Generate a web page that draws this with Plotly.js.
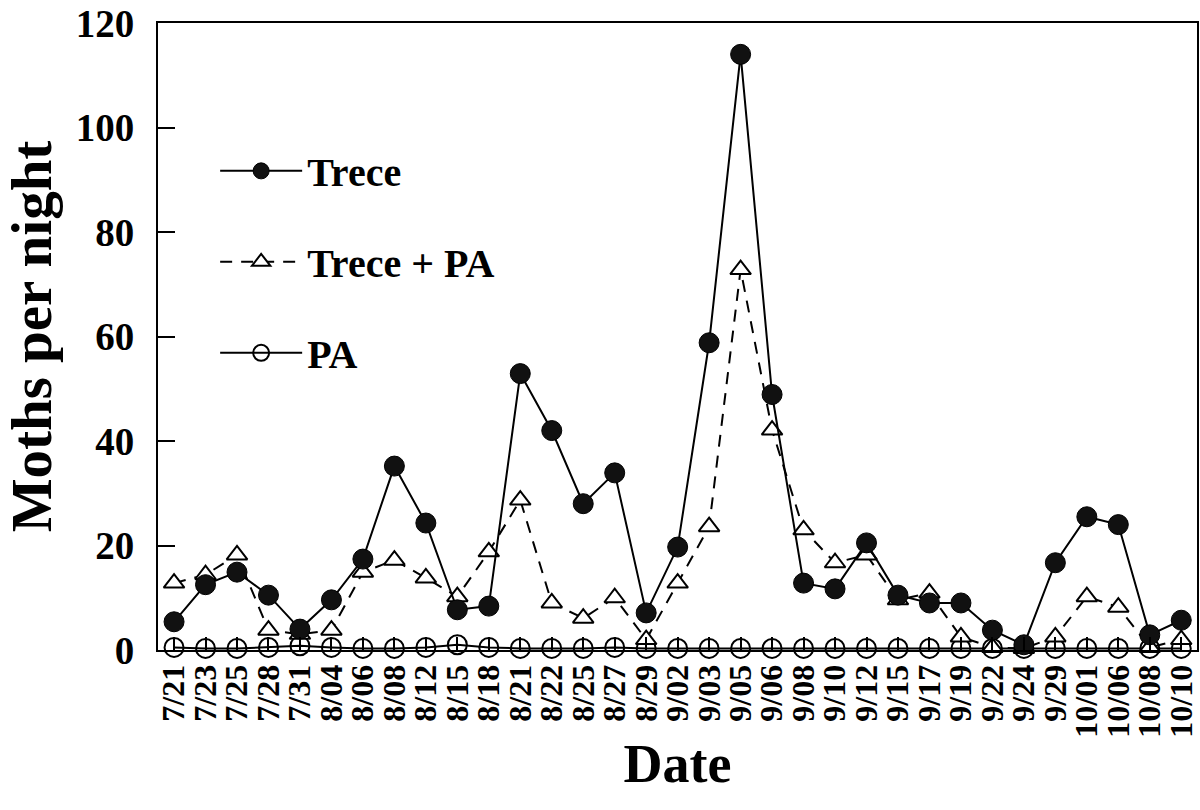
<!DOCTYPE html>
<html>
<head>
<meta charset="utf-8">
<script src="https://cdn.plot.ly/plotly-3.0.1.min.js"></script>
<style>html,body{margin:0;padding:0;background:#fff;}#chart{width:1200px;height:810px;}</style>
</head>
<body>
<div id="chart"></div>
<script>
const dates = ["7/21","7/23","7/25","7/28","7/31","8/04","8/06","8/08","8/12","8/15","8/18","8/21","8/22","8/25","8/27","8/29","9/02","9/03","9/05","9/06","9/08","9/10","9/12","9/15","9/17","9/19","9/22","9/24","9/29","10/01","10/06","10/08","10/10"];
const trece = [5.4,12.5,14.9,10.5,4.0,9.6,17.4,35.2,24.3,7.7,8.4,52.9,42.0,28.0,33.9,7.1,19.7,58.8,114.0,48.9,12.8,11.7,20.5,10.5,9.0,9.0,3.8,1.0,16.7,25.5,24.0,2.9,5.7];
const trecePA = [12.8,14.4,18.2,3.8,3.0,3.8,14.9,17.2,13.8,10.2,18.8,28.7,9.0,6.1,10.0,2.0,12.8,23.6,72.8,42.1,23.0,16.7,18.2,9.6,10.9,2.5,0.5,0.3,2.5,10.2,8.2,0.5,2.0];
const pa = [0.5,0.3,0.3,0.5,0.8,0.5,0.3,0.3,0.5,1.0,0.5,0.3,0.3,0.3,0.5,0.3,0.3,0.3,0.3,0.3,0.3,0.3,0.3,0.3,0.3,0.3,0.3,0.3,0.3,0.3,0.3,0.3,0.3];
const seriesNames = ["Trece","Trece + PA","PA"];
const yTicks = [0,20,40,60,80,100,120];

const FONT = "Liberation Serif, Times New Roman, serif";
const idx = dates.map((d,i)=>i);

const traces = [
  {
    x: idx, y: pa, name: seriesNames[2], type: "scatter", mode: "lines+markers",
    line: {color: "#000", width: 2},
    marker: {symbol: "circle-open", size: 19, color: "#000", line: {color: "#000", width: 2}},
    cliponaxis: false, legendgroup: "c", legendrank: 3
  },
  {
    x: idx, y: trecePA, name: seriesNames[1], type: "scatter", mode: "lines+markers",
    line: {color: "#000", width: 2, dash: "12px,9px"},
    marker: {symbol: "triangle-up", size: 18, color: "#fff", line: {color: "#000", width: 2}},
    cliponaxis: false, legendgroup: "b", legendrank: 2
  },
  {
    x: idx, y: trece, name: seriesNames[0], type: "scatter", mode: "lines+markers",
    line: {color: "#000", width: 2},
    marker: {symbol: "circle", size: 20, color: "#111", line: {color: "#000", width: 1}},
    cliponaxis: false, legendgroup: "a", legendrank: 1
  }
];

const layout = {
  width: 1200, height: 810,
  paper_bgcolor: "#fff", plot_bgcolor: "#fff",
  margin: {l: 158, r: 3, t: 23, b: 160},
  font: {family: FONT, color: "#000"},
  showlegend: true,
  legend: {
    x: 0.055, y: 0.816, xanchor: "left", yanchor: "top",
    bgcolor: "rgba(0,0,0,0)",
    font: {family: FONT, size: 40, color: "#000", weight: "bold"},
    traceorder: "grouped", tracegroupgap: 36,
    itemsizing: "trace", itemwidth: 82
  },
  xaxis: {
    range: [-0.51, 32.5],
    tickmode: "array", tickvals: idx, ticktext: dates,
    tickangle: -90,
    tickfont: {family: FONT, size: 32, color: "#000", weight: "bold"},
    ticks: "inside", ticklen: 13, tickwidth: 2, tickcolor: "#000",
    showline: true, linecolor: "#000", linewidth: 2, mirror: true,
    showgrid: false, zeroline: false,
    title: {text: "Date", font: {family: FONT, size: 54, color: "#000", weight: "bold"}, standoff: 8},
    automargin: false
  },
  yaxis: {
    range: [0, 120],
    tickmode: "array", tickvals: yTicks, ticktext: yTicks.map(String),
    tickfont: {family: FONT, size: 39, color: "#000", weight: "bold"},
    ticks: "inside", ticklen: 17, tickwidth: 2, tickcolor: "#000",
    ticklabelstandoff: 14,
    showline: true, linecolor: "#000", linewidth: 2, mirror: true,
    showgrid: false, zeroline: false,
    title: {text: "Moths per night", font: {family: FONT, size: 57, color: "#000", weight: "bold"}, standoff: 20},
    automargin: false
  }
};

Plotly.newPlot("chart", traces, layout, {displayModeBar: false, staticPlot: true});
</script>
</body>
</html>
